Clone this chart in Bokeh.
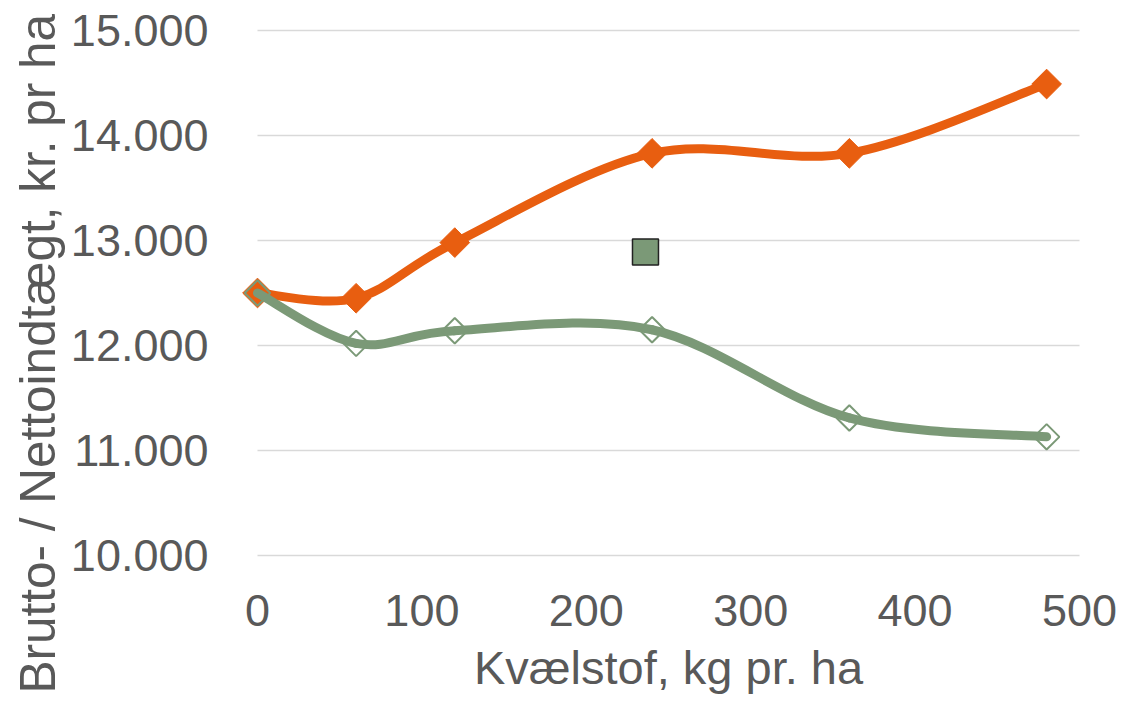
import numpy as np
from bokeh.plotting import figure
from bokeh.models import Range1d, FixedTicker, Title
from bokeh.embed import file_html
from bokeh.resources import INLINE

# ---- data ----
kvaelstof = [0, 60, 120, 240, 360, 480]
brutto = [12500, 12450, 12980, 13830, 13830, 14490]
netto = [12500, 12020, 12140, 12150, 11310, 11130]
opt_x = [236]
opt_y = [12890]
x_ticks = [0, 100, 200, 300, 400, 500]
x_tick_labels = ["0", "100", "200", "300", "400", "500"]
y_ticks = [10000, 11000, 12000, 13000, 14000, 15000]
y_tick_labels = ["10.000", "11.000", "12.000", "13.000", "14.000", "15.000"]
x_title = "Kvælstof, kg pr. ha"
y_title = "Brutto- / Nettoindtægt, kr. pr ha"

ORANGE = "#E85E10"
GREEN = "#7B9977"
TXT = "#595959"
FONT = "Liberation Sans"


def smooth(xs, ys, k=1 / 6):
    """Bezier segments (Excel-like smoothed line) built from the data points."""
    n = len(xs)
    d = dict(x0=[], y0=[], x1=[], y1=[], cx0=[], cy0=[], cx1=[], cy1=[])
    for i in range(n - 1):
        a = i - 1 if i > 0 else i
        b = i + 2 if i + 2 < n else i + 1
        d["x0"].append(xs[i]); d["y0"].append(ys[i])
        d["x1"].append(xs[i + 1]); d["y1"].append(ys[i + 1])
        d["cx0"].append(xs[i] + (xs[i + 1] - xs[a]) * k)
        d["cy0"].append(ys[i] + (ys[i + 1] - ys[a]) * k)
        d["cx1"].append(xs[i + 1] - (xs[b] - xs[i]) * k)
        d["cy1"].append(ys[i + 1] - (ys[b] - ys[i]) * k)
    return d


p = figure(
    width=1127, height=701,
    frame_width=874, frame_height=545,
    x_range=Range1d(-15.815, 515.815), y_range=Range1d(9904.76, 15095.24),
    output_backend="svg", toolbar_location=None,
    min_border_left=231, min_border_top=20, min_border_right=22, min_border_bottom=136,
)
p.outline_line_color = None
p.xgrid.visible = False
p.ygrid.visible = False
p.background_fill_color = "white"
p.border_fill_color = "white"

# grid lines spanning the x-axis range
p.segment(x0=[x_ticks[0]] * len(y_ticks), x1=[x_ticks[-1]] * len(y_ticks),
          y0=y_ticks, y1=y_ticks, line_color="#D9D9D9", line_width=1.5)

# brutto (orange)
p.bezier(line_color=ORANGE, line_width=9, line_cap="round", **smooth(kvaelstof, brutto))
p.scatter(kvaelstof, brutto, marker="square", angle=np.pi / 4, size=21,
          fill_color=ORANGE, line_color=ORANGE, line_width=1)

# netto (green)
p.bezier(line_color=GREEN, line_width=9, line_cap="round", **smooth(kvaelstof, netto))
p.scatter(kvaelstof, netto, marker="square", angle=np.pi / 4, size=18,
          fill_color=None, line_color=GREEN, line_width=2)

# single point
p.scatter(opt_x, opt_y, marker="square", size=26, fill_color=GREEN,
          line_color="#222222", line_width=1.5)

# axes
for ax in (p.xaxis[0], p.yaxis[0]):
    ax.axis_line_color = None
    ax.major_tick_line_color = None
    ax.minor_tick_line_color = None
    ax.major_label_text_font = FONT
    ax.major_label_text_font_size = "45px"
    ax.major_label_text_color = TXT

p.xaxis.ticker = FixedTicker(ticks=x_ticks)
p.xaxis.major_label_overrides = dict(zip(x_ticks, x_tick_labels))
p.xaxis.major_label_standoff = 23
p.xaxis.axis_label = x_title
p.xaxis.axis_label_text_font = FONT
p.xaxis.axis_label_text_font_size = "47px"
p.xaxis.axis_label_text_font_style = "normal"
p.xaxis.axis_label_text_color = TXT
p.xaxis.axis_label_standoff = 12

p.yaxis.ticker = FixedTicker(ticks=y_ticks)
p.yaxis.major_label_overrides = dict(zip(y_ticks, y_tick_labels))
p.yaxis.major_label_standoff = 17

p.add_layout(Title(text=y_title, align="left", offset=-128, text_font=FONT,
                   text_font_size="49.5px", text_font_style="normal",
                   text_color=TXT, standoff=5), "left")

open("out.html", "w").write(file_html(p, INLINE))
